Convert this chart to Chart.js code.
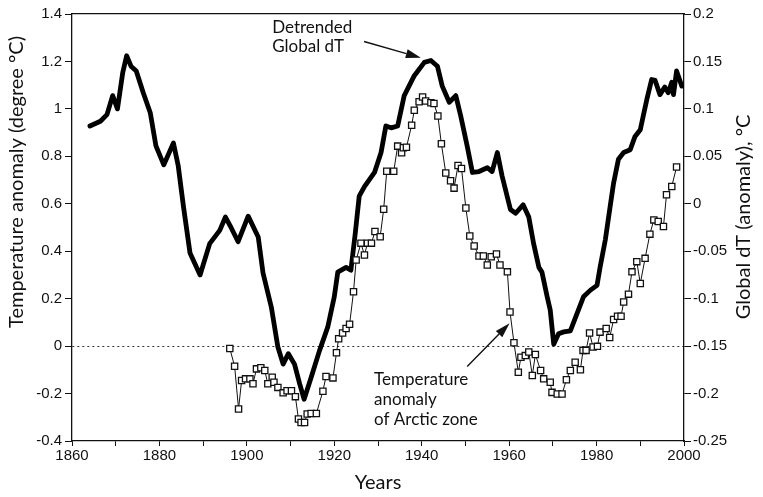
<!DOCTYPE html>
<html>
<head>
<meta charset="utf-8">
<title>Detrended Global dT and Arctic temperature anomaly</title>
<script src="https://cdn.jsdelivr.net/npm/chart.js"></script>
<style>
  html, body { margin: 0; padding: 0; background: #fff; }
</style>
</head>
<body>
<canvas id="chart" width="763" height="497"></canvas>
<script>
// Detrended global dT (right axis, °C)
const globalYears = [
  1864.1, 1866.5, 1868.0, 1869.3, 1870.4, 1871.6, 1872.5, 1873.5, 1874.7, 1876.3,
  1877.9, 1879.2, 1881.0, 1883.2, 1884.3, 1885.5, 1887.0, 1887.7, 1889.3, 1891.5,
  1893.8, 1895.1, 1896.5, 1898.0, 1900.3, 1902.6, 1903.7, 1905.6, 1907.1, 1908.3,
  1909.5, 1910.9, 1912.1, 1913.1, 1914.7, 1916.6, 1918.5, 1920.0, 1920.8, 1922.7,
  1923.8, 1924.8, 1925.7, 1926.9, 1929.2, 1930.7, 1931.8, 1933.0, 1934.5, 1936.0,
  1938.3, 1940.6, 1942.1, 1943.6, 1944.7, 1946.3, 1947.8, 1948.9, 1950.4, 1951.6,
  1953.1, 1955.0, 1956.1, 1957.3, 1958.4, 1960.3, 1961.5, 1963.2, 1964.5, 1965.6,
  1966.8, 1967.5, 1968.7, 1969.4, 1970.2, 1971.3, 1972.5, 1974.0, 1975.5, 1977.0,
  1978.6, 1980.1, 1980.8, 1982.0, 1983.1, 1983.9, 1985.0, 1986.2, 1987.7, 1988.8,
  1990.0, 1990.7, 1991.5, 1992.6, 1993.4, 1994.5, 1995.6, 1996.4, 1997.2, 1997.6,
  1998.3, 1999.5
];
const globalDT = [
  0.082, 0.087, 0.094, 0.114, 0.100, 0.138, 0.156, 0.145, 0.140, 0.117,
  0.096, 0.061, 0.041, 0.064, 0.040, -0.003, -0.052, -0.059, -0.075, -0.042,
  -0.028, -0.014, -0.026, -0.040, -0.013, -0.035, -0.073, -0.109, -0.151, -0.169,
  -0.158, -0.169, -0.190, -0.206, -0.183, -0.155, -0.130, -0.098, -0.072, -0.067,
  -0.070, -0.031, 0.008, 0.018, 0.033, 0.054, 0.082, 0.080, 0.082, 0.114,
  0.135, 0.149, 0.151, 0.145, 0.124, 0.107, 0.114, 0.093, 0.061, 0.033,
  0.034, 0.038, 0.034, 0.054, 0.029, -0.006, -0.010, -0.001, -0.014, -0.042,
  -0.067, -0.072, -0.098, -0.112, -0.148, -0.137, -0.135, -0.134, -0.116, -0.098,
  -0.091, -0.086, -0.067, -0.038, -0.003, 0.022, 0.047, 0.054, 0.057, 0.071,
  0.078, 0.093, 0.110, 0.131, 0.130, 0.115, 0.123, 0.117, 0.128, 0.115,
  0.140, 0.124
];

// Temperature anomaly of Arctic zone, square markers (left axis, °C)
const arcticYears = [
  1896.1, 1897.2, 1898.1, 1898.8, 1899.7, 1900.7, 1901.4, 1902.2, 1903.2, 1904.1,
  1904.8, 1905.8, 1906.2, 1907.1, 1908.3, 1909.2, 1910.2, 1911.1, 1911.8, 1912.4,
  1913.2, 1913.8, 1914.7, 1915.9, 1917.4, 1918.1, 1919.7, 1920.5, 1921.0, 1921.9,
  1922.7, 1923.5, 1924.4, 1925.0, 1926.1, 1926.9, 1927.6, 1928.5, 1929.3, 1930.5,
  1931.3, 1932.0, 1933.6, 1934.5, 1935.4, 1935.8, 1936.5, 1937.7, 1938.3, 1939.4,
  1940.2, 1940.9, 1942.1, 1942.8, 1943.7, 1944.5, 1945.5, 1946.6, 1947.4, 1948.3,
  1949.1, 1950.1, 1951.0, 1952.0, 1953.1, 1954.1, 1955.0, 1955.9, 1957.1, 1957.9,
  1959.6, 1960.2, 1961.1, 1962.1, 1962.7, 1963.7, 1964.5, 1965.3, 1966.0, 1967.2,
  1967.9, 1969.4, 1969.8, 1971.0, 1972.1, 1973.1, 1974.0, 1975.1, 1976.3, 1976.9,
  1977.6, 1978.4, 1979.2, 1980.2, 1980.8, 1982.2, 1983.0, 1983.9, 1984.8, 1985.6,
  1986.2, 1987.3, 1988.1, 1989.2, 1990.0, 1991.1, 1992.2, 1993.1, 1994.1, 1995.3,
  1996.0, 1997.2, 1998.3
];
const arcticT = [
  -0.010, -0.085, -0.265, -0.145, -0.138, -0.138, -0.159, -0.096, -0.091, -0.103,
  -0.159, -0.131, -0.152, -0.174, -0.197, -0.188, -0.188, -0.213, -0.307, -0.322,
  -0.322, -0.286, -0.284, -0.284, -0.190, -0.128, -0.134, -0.028, 0.031, 0.055,
  0.074, 0.092, 0.229, 0.363, 0.434, 0.384, 0.434, 0.434, 0.483, 0.461,
  0.577, 0.737, 0.737, 0.843, 0.815, 0.836, 0.838, 0.931, 0.994, 1.030,
  1.050, 1.033, 1.026, 1.023, 0.970, 0.853, 0.730, 0.697, 0.666, 0.761,
  0.749, 0.582, 0.464, 0.422, 0.380, 0.380, 0.342, 0.377, 0.388, 0.342,
  0.313, 0.144, 0.014, -0.110, -0.047, -0.040, -0.025, -0.124, -0.035, -0.103,
  -0.138, -0.152, -0.195, -0.202, -0.202, -0.142, -0.103, -0.068, -0.100, -0.018,
  -0.018, 0.055, -0.004, -0.001, 0.059, 0.074, 0.036, 0.112, 0.126, 0.126,
  0.186, 0.219, 0.313, 0.356, 0.264, 0.370, 0.472, 0.532, 0.525, 0.504,
  0.638, 0.673, 0.755
];

// tick values
const yearTicks = [1860, 1870, 1880, 1890, 1900, 1910, 1920, 1930, 1940, 1950, 1960, 1970, 1980, 1990, 2000];
const leftTicks = [-0.4, -0.2, 0, 0.2, 0.4, 0.6, 0.8, 1, 1.2, 1.4];
const rightTicks = [-0.25, -0.2, -0.15, -0.1, -0.05, 0, 0.05, 0.1, 0.15, 0.2];

const leftTitle = 'Temperature anomaly (degree °C)';
const rightTitle = 'Global dT (anomaly), °C';

const INK = '#111';
const TXT = 'Lato, "Open Sans", sans-serif';

function toPoints(xs, ys) {
  return xs.map((x, i) => ({ x: x, y: ys[i] }));
}

function arrow(ctx, x1, y1, x2, y2) {
  const a = Math.atan2(y2 - y1, x2 - x1);
  const len = 15, half = 4.5;
  const bx = x2 - len * Math.cos(a), by = y2 - len * Math.sin(a);
  ctx.beginPath();
  ctx.moveTo(x1, y1);
  ctx.lineTo(bx, by);
  ctx.lineWidth = 1.4;
  ctx.stroke();
  ctx.beginPath();
  ctx.moveTo(x2, y2);
  ctx.lineTo(bx + half * Math.sin(a), by - half * Math.cos(a));
  ctx.lineTo(bx - half * Math.sin(a), by + half * Math.cos(a));
  ctx.closePath();
  ctx.fill();
}

// axis titles on the sides and the two call-outs
const notes = {
  id: 'notes',
  afterDraw(chart) {
    const { ctx, scales } = chart;
    const x = scales.x, yl = scales.y, yr = scales.y1;
    ctx.save();
    ctx.fillStyle = INK;
    ctx.strokeStyle = INK;

    ctx.font = '20px ' + TXT;
    ctx.textAlign = 'center';
    ctx.textBaseline = 'middle';
    ctx.save();
    ctx.translate(17, 182);
    ctx.rotate(-Math.PI / 2);
    ctx.fillText(leftTitle, 0, 0);
    ctx.restore();
    ctx.save();
    ctx.translate(744, 217);
    ctx.rotate(-Math.PI / 2);
    ctx.fillText(rightTitle, 0, 0);
    ctx.restore();

    ctx.font = '17px ' + TXT;
    ctx.textAlign = 'left';
    ctx.textBaseline = 'alphabetic';
    const gx = x.getPixelForValue(1905.8);
    const gy = yr.getPixelForValue(0.18);
    ctx.fillText('Detrended', gx, gy);
    ctx.fillText('Global dT', gx, gy + 19);
    arrow(ctx, x.getPixelForValue(1926.8), yr.getPixelForValue(0.171),
               x.getPixelForValue(1939.8), yr.getPixelForValue(0.154));

    const ax = x.getPixelForValue(1929.1);
    const ay = yl.getPixelForValue(-0.162);
    ctx.fillText('Temperature', ax, ay);
    ctx.fillText('anomaly', ax, ay + 20);
    ctx.fillText('of Arctic zone', ax, ay + 40);
    arrow(ctx, x.getPixelForValue(1950.4), yl.getPixelForValue(-0.086),
               x.getPixelForValue(1960.1), yl.getPixelForValue(0.096));
    ctx.restore();
  }
};

function build() {
  Chart.defaults.font.family = '"Liberation Sans", Arial, sans-serif';
  Chart.defaults.font.size = 15;
  Chart.defaults.color = INK;

  new Chart(document.getElementById('chart'), {
    type: 'line',
    data: {
      datasets: [
        {
          label: 'Temperature anomaly of Arctic zone',
          data: toPoints(arcticYears, arcticT),
          yAxisID: 'y',
          borderColor: INK,
          borderWidth: 1,
          pointStyle: 'rect',
          pointRadius: 4.4,
          pointBorderWidth: 1.3,
          pointBackgroundColor: '#fff',
          pointBorderColor: INK,
          tension: 0
        },
        {
          label: 'Detrended Global dT',
          data: toPoints(globalYears, globalDT),
          yAxisID: 'y1',
          borderColor: '#000',
          borderWidth: 4.8,
          borderJoinStyle: 'round',
          borderCapStyle: 'round',
          pointRadius: 0,
          tension: 0
        }
      ]
    },
    options: {
      responsive: false,
      animation: false,
      events: [],
      layout: { padding: { top: 14, left: 0, right: 0, bottom: 0 }, autoPadding: false },
      plugins: { legend: { display: false }, tooltip: { enabled: false } },
      scales: {
        x: {
          type: 'linear',
          position: 'bottom',
          min: 1860,
          max: 2000,
          afterBuildTicks: s => { s.ticks = yearTicks.map(v => ({ value: v })); },
          afterFit: s => { s.height = 56; },
          ticks: {
            autoSkip: false,
            maxRotation: 0,
            padding: 1,
            callback: v => (v % 20 === 0 ? String(v) : '')
          },
          grid: { drawOnChartArea: false, tickLength: 5, tickColor: INK },
          border: { color: INK, width: 1.3 },
          title: {
            display: true,
            text: 'Years',
            font: { family: TXT, size: 20 },
            padding: { top: 0, bottom: 2 }
          }
        },
        top: {
          type: 'linear',
          position: 'top',
          min: 1860,
          max: 2000,
          afterFit: s => { s.height = 0; },
          ticks: { display: false },
          grid: { display: false },
          border: { color: INK, width: 1.3 }
        },
        y: {
          type: 'linear',
          position: 'left',
          min: -0.4,
          max: 1.4,
          afterBuildTicks: s => { s.ticks = leftTicks.map(v => ({ value: v })); },
          afterFit: s => { s.width = 72; },
          ticks: { padding: 3, callback: v => String(v) },
          grid: {
            drawOnChartArea: true,
            tickLength: 7,
            tickColor: INK,
            lineWidth: 1,
            color: c => (c.tick && c.tick.value === 0 ? '#333' : 'rgba(0,0,0,0)')
          },
          border: { color: INK, width: 1.3, dash: [2, 3] }
        },
        y1: {
          type: 'linear',
          position: 'right',
          min: -0.25,
          max: 0.2,
          afterBuildTicks: s => { s.ticks = rightTicks.map(v => ({ value: v })); },
          afterFit: s => { s.width = 79; },
          ticks: { padding: 2, callback: v => String(v) },
          grid: { drawOnChartArea: false, tickLength: 7, tickColor: INK },
          border: { color: INK, width: 1.3 }
        }
      }
    },
    plugins: [notes]
  });
}

if (document.fonts && document.fonts.load) {
  Promise.all([
    document.fonts.load('20px Lato'),
    document.fonts.load('15px "Liberation Sans"')
  ]).then(build, build);
} else {
  build();
}
</script>
</body>
</html>
